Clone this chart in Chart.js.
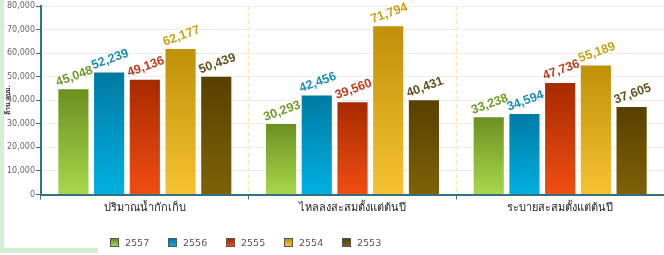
<!DOCTYPE html>
<html>
<head>
<meta charset="utf-8">
<script src="https://cdn.jsdelivr.net/npm/chart.js@4.4.1/dist/chart.umd.min.js"></script>
<style>
    html, body { margin: 0; padding: 0; background: #fff; }
    #wrap { position: relative; width: 664px; height: 255px; overflow: hidden; }
    #stripLeft { position: absolute; left: 0; top: 0; width: 4px; height: 253px; background: #d5efd5; }
    #stripBottom { position: absolute; left: 0; top: 248px; width: 98px; height: 5px; background: #d5efd5; }
    #legend { position: absolute; left: 110px; top: 237px; display: flex; font: 9.5px "DejaVu Sans", sans-serif; color: #555; }
    .item { display: flex; align-items: center; width: 58px; }
    .box { width: 7px; height: 7px; border: 1px solid #555; margin-right: 6px; }
</style>
</head>
<body>
<div id="wrap">
    <div id="stripLeft"></div>
    <div id="stripBottom"></div>
    <canvas id="chart"></canvas>
    <div id="legend"></div>
</div>
<script>
const categories = ['ปริมาณน้ำกักเก็บ', 'ไหลลงสะสมตั้งแต่ต้นปี', 'ระบายสะสมตั้งแต่ต้นปี'];
const years = ['2557', '2556', '2555', '2554', '2553'];
const v2557 = [45048, 30293, 33238];
const v2556 = [52239, 42456, 34594];
const v2555 = [49136, 39560, 47736];
const v2554 = [62177, 71794, 55189];
const v2553 = [50439, 40431, 37605];
const yTicks = [0, 10000, 20000, 30000, 40000, 50000, 60000, 70000, 80000];

const seriesValues = [v2557, v2556, v2555, v2554, v2553];
const topColors = ['#6b8f1f', '#007aa2', '#a62a00', '#bf9008', '#574000'];
const bottomColors = ['#a8d84c', '#00b0e2', '#f04e12', '#f5c232', '#7e6209'];
const labelColors = ['#6f9a26', '#1b8db5', '#c23a1a', '#c9a012', '#64501c'];
const teal = '#34707e';

function barGradient(ctx, i) {
    const chart = ctx.chart;
    if (!chart.chartArea || ctx.type !== 'data') return bottomColors[i];
    const y = chart.scales.y;
    const g = chart.ctx.createLinearGradient(0, y.getPixelForValue(ctx.raw), 0, y.getPixelForValue(0));
    g.addColorStop(0, topColors[i]);
    g.addColorStop(1, bottomColors[i]);
    return g;
}

const valueLabels = {
    id: 'valueLabels',
    afterDatasetsDraw(chart) {
        const c = chart.ctx;
        chart.data.datasets.forEach((ds, i) => {
            chart.getDatasetMeta(i).data.forEach((bar, j) => {
                const text = ds.data[j].toLocaleString('en-US');
                c.save();
                c.translate(bar.x + 1, bar.y - 12);
                c.rotate(-20 * Math.PI / 180);
                c.font = 'bold 12.5px "Liberation Sans", sans-serif';
                c.textAlign = 'center';
                c.textBaseline = 'middle';
                c.lineWidth = 2;
                c.strokeStyle = 'rgba(255,255,255,0.7)';
                c.strokeText(text, 0, 0);
                c.fillStyle = labelColors[i];
                c.fillText(text, 0, 0);
                c.restore();
            });
        });
    }
};

new Chart(document.getElementById('chart'), {
    type: 'bar',
    data: {
        labels: categories,
        datasets: years.map((yr, i) => ({
            label: yr,
            data: seriesValues[i],
            backgroundColor: ctx => barGradient(ctx, i),
            borderColor: 'rgba(255,255,255,0.35)',
            borderWidth: 1,
            categoryPercentage: 0.86,
            barPercentage: 0.9
        }))
    },
    options: {
        responsive: true,
        maintainAspectRatio: false,
        animation: false,
        layout: { padding: { top: 6, left: 0, right: 0, bottom: 0 } },
        plugins: {
            legend: { display: false },
            tooltip: { enabled: false }
        },
        scales: {
            x: {
                grid: {
                    color: '#f8e2a6',
                    offset: true,
                    tickColor: teal,
                    tickLength: 5,
                    tickWidth: 1
                },
                border: { color: teal, width: 2, dash: [4, 3] },
                ticks: {
                    color: '#222',
                    padding: 2,
                    font: { size: 11, family: 'sans-serif' }
                },
                afterFit(scale) { scale.height = 60.5; }
            },
            y: {
                min: 0,
                max: 80000,
                afterBuildTicks(scale) { scale.ticks = yTicks.map(v => ({ value: v })); },
                grid: { color: '#ececec', tickColor: teal, tickLength: 5 },
                border: { color: teal, width: 2 },
                ticks: {
                    color: '#666',
                    padding: 1,
                    font: { size: 8, family: '"DejaVu Sans", sans-serif' },
                    callback: v => v.toLocaleString('en-US')
                },
                title: {
                    display: true,
                    text: 'ล้าน ลบม.',
                    color: '#333',
                    padding: { top: 4, bottom: 0 },
                    font: { size: 7, weight: 'bold', family: 'sans-serif' }
                },
                afterFit(scale) { scale.width = 41; }
            }
        }
    },
    plugins: [valueLabels]
});

const legend = document.getElementById('legend');
years.forEach((yr, i) => {
    const item = document.createElement('div');
    item.className = 'item';
    const box = document.createElement('span');
    box.className = 'box';
    box.style.background = `linear-gradient(${topColors[i]}, ${bottomColors[i]})`;
    const label = document.createElement('span');
    label.textContent = yr;
    item.append(box, label);
    legend.appendChild(item);
});
</script>
</body>
</html>
